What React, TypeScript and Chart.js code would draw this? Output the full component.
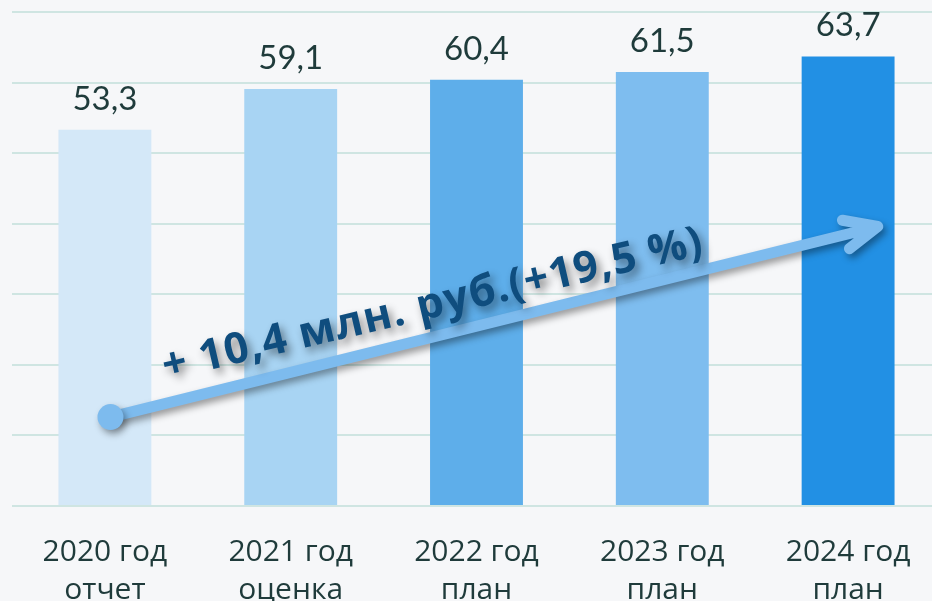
import React, { useEffect, useRef } from "react";
import { Chart, registerables } from "chart.js";

Chart.register(...registerables);

const categories: string[][] = [
  ["2020 год", "отчет"],
  ["2021 год", "оценка"],
  ["2022 год", "план"],
  ["2023 год", "план"],
  ["2024 год", "план"],
];
const values: number[] = [53.3, 59.1, 60.4, 61.5, 63.7];
const valueLabels: string[] = ["53,3", "59,1", "60,4", "61,5", "63,7"];
const barColors: string[] = ["#d4e8f8", "#a8d4f3", "#5eaeea", "#7ebdef", "#2290e4"];
const yTicks = { min: 0, max: 70, step: 10 };
const annotationText = "+ 10,4 млн. руб.(+19,5 %)";
// arrow anchors in data space: [category index, value]
const arrowStart: [number, number] = [0.03, 12.6];
const arrowEnd: [number, number] = [4.16, 39.6];

const overlayPlugin = {
  id: "overlay",
  afterDatasetsDraw(chart: any) {
    const ctx = chart.ctx;
    const meta = chart.getDatasetMeta(0);
    // value labels
    ctx.save();
    ctx.font = '400 33px Lato';
    ctx.fillStyle = "#1f3b3b";
    ctx.textAlign = "center";
    ctx.textBaseline = "alphabetic";
    meta.data.forEach((bar: any, i: number) => {
      ctx.fillText(valueLabels[i], bar.x, bar.y - 20);
    });
    ctx.restore();

    const xs = chart.scales.x;
    const ys = chart.scales.y;
    const x0 = xs.getPixelForValue(arrowStart[0]);
    const y0 = ys.getPixelForValue(arrowStart[1]);
    const x1 = xs.getPixelForValue(arrowEnd[0]);
    const y1 = ys.getPixelForValue(arrowEnd[1]);
    const ang = Math.atan2(y1 - y0, x1 - x0);

    // arrow
    ctx.save();
    ctx.shadowColor = "rgba(0,0,0,0.38)";
    ctx.shadowBlur = 7;
    ctx.shadowOffsetX = 3;
    ctx.shadowOffsetY = 4;
    ctx.strokeStyle = "#7dbbee";
    ctx.fillStyle = "#7dbbee";
    ctx.lineCap = "round";
    ctx.lineJoin = "round";
    ctx.lineWidth = 10;
    ctx.beginPath();
    ctx.moveTo(x0, y0);
    ctx.lineTo(x1 - 4 * Math.cos(ang), y1 - 4 * Math.sin(ang));
    const headLen = 36;
    const spread = (24 * Math.PI) / 180;
    ctx.moveTo(x1 + headLen * Math.cos(ang + Math.PI - spread), y1 + headLen * Math.sin(ang + Math.PI - spread));
    ctx.lineTo(x1, y1);
    ctx.lineTo(x1 + headLen * Math.cos(ang + Math.PI + spread), y1 + headLen * Math.sin(ang + Math.PI + spread));
    ctx.lineWidth = 11;
    ctx.stroke();
    ctx.beginPath();
    ctx.arc(x0, y0, 13, 0, Math.PI * 2);
    ctx.fill();
    ctx.restore();

    // annotation text
    const t = 0.425;
    const cx = x0 + (x1 - x0) * t;
    const cy = y0 + (y1 - y0) * t;
    const off = 32;
    const tx = cx + off * Math.sin(ang) + 4;
    const ty = cy - off * Math.cos(ang);
    ctx.save();
    ctx.translate(tx, ty);
    ctx.rotate(ang + (0.8 * Math.PI) / 180);
    ctx.font = '700 43px "Open Sans"';
    try { (ctx as any).letterSpacing = "1px"; } catch (e) {}
    ctx.textAlign = "center";
    ctx.textBaseline = "middle";
    ctx.shadowColor = "rgba(0,0,0,0.45)";
    ctx.shadowBlur = 8;
    ctx.shadowOffsetX = 4;
    ctx.shadowOffsetY = 5;
    ctx.fillStyle = "#0f4d7e";
    ctx.fillText(annotationText, 0, 0);
    ctx.restore();
  },
};

export default function App() {
  const ref = useRef<HTMLCanvasElement | null>(null);
  useEffect(() => {
    if (!ref.current) return;
    const chart = new Chart(ref.current, {
      type: "bar",
      data: {
        labels: categories,
        datasets: [
          {
            data: values,
            backgroundColor: barColors,
            borderWidth: 0,
            barPercentage: 0.5,
            categoryPercentage: 1,
          },
        ],
      },
      options: {
        responsive: false,
        animation: false,
        layout: { padding: { left: 12, right: 0, top: 12, bottom: 0 } },
        plugins: { legend: { display: false }, tooltip: { enabled: false } },
        scales: {
          x: {
            grid: { display: false, drawTicks: false },
            border: { display: false },
            ticks: {
              color: "#1f3b3b",
              font: { family: "'Open Sans'", size: 30, lineHeight: 1.27 },
              padding: 27,
              maxRotation: 0,
              autoSkip: false,
            },
            afterFit: (scale: any) => {
              scale.height = 95;
            },
          },
          y: {
            min: yTicks.min,
            max: yTicks.max,
            ticks: { display: false, stepSize: yTicks.step },
            grid: { color: "#cfe5e2", lineWidth: 2, drawTicks: false },
            border: { display: false },
          },
        },
      },
      plugins: [overlayPlugin],
    });
    return () => chart.destroy();
  }, []);
  return (
    <div
      style={{
        position: "fixed",
        left: 0,
        top: 0,
        width: 932,
        height: 601,
        overflow: "hidden",
        background: "#f6f7f9",
      }}
    >
      <canvas ref={ref} width={941} height={601} style={{ display: "block" }} />
    </div>
  );
}
